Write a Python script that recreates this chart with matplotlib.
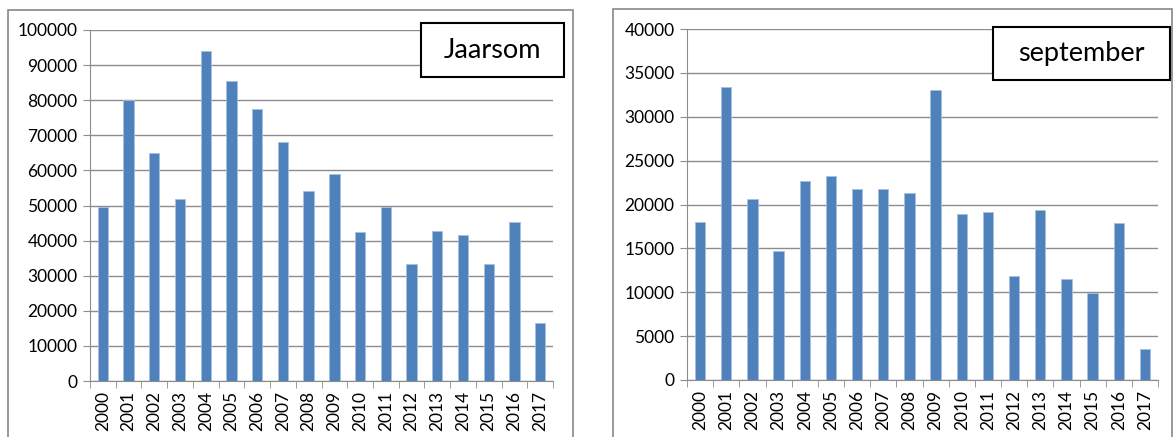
import matplotlib.pyplot as plt
from matplotlib.patches import Rectangle

years = [str(y) for y in range(2000, 2018)]
jaarsom = [49500, 80000, 65000, 51800, 94000, 85500, 77500, 68200, 54000,
           59100, 42400, 49500, 33200, 42600, 41600, 33200, 45300, 16500]
september = [18000, 33400, 20600, 14700, 22700, 23200, 21800, 21800, 21300,
             33050, 18900, 19200, 11900, 19400, 11500, 9950, 17900, 3500]

W, H = 1174, 437
plt.rcParams["font.family"] = ["Lato", "DejaVu Sans"]

fig = plt.figure(figsize=(W / 100, H / 100), dpi=100)

bar_color = "#4F81BD"
grid_color = "#8C8C8C"


def px_axes(left, top, right, bottom):
    return fig.add_axes([left / W, 1 - bottom / H, (right - left) / W, (bottom - top) / H])


def draw(ax, values, ymax, step, title, box):
    x = range(len(values))
    ax.bar(x, values, width=0.4, color=bar_color, edgecolor="#A7BFDE", linewidth=0.6, zorder=3)
    ax.set_xlim(-0.5, len(values) - 0.5)
    ax.set_ylim(0, ymax)
    ax.set_yticks(range(0, ymax + 1, step))
    ax.set_xticks(list(x))
    ax.set_xticklabels(years, rotation=90, fontsize=12.5)
    ax.set_xticks([i - 0.5 for i in range(len(values) + 1)], minor=True)
    ax.tick_params(axis="x", which="major", length=0, pad=7)
    ax.tick_params(axis="x", which="minor", length=5, color=grid_color)
    ax.tick_params(axis="y", length=5, color=grid_color, labelsize=12.5, pad=4)
    ax.yaxis.grid(True, color=grid_color, linewidth=1, zorder=0)
    for s in ["top", "right"]:
        ax.spines[s].set_visible(False)
    for s in ["left", "bottom"]:
        ax.spines[s].set_color(grid_color)
    bl, bt, br, bb = box
    fig.patches.append(Rectangle((bl / W, 1 - bb / H), (br - bl) / W, (bb - bt) / H,
                                 transform=fig.transFigure, facecolor="white",
                                 edgecolor="black", linewidth=1.5, zorder=5))
    fig.text((bl + br) / 2 / W, 1 - (bt + bb) / 2 / H, title, fontsize=19.5,
             ha="center", va="center", zorder=6)


# outer chart borders
fig.patches.append(Rectangle((8 / W, -0.1), 565 / W, 1 - 10 / H + 0.1,
                             transform=fig.transFigure, fill=False,
                             edgecolor="#888888", linewidth=1.2))
fig.patches.append(Rectangle((613 / W, -0.1), 559 / W, 1 - 9 / H + 0.1,
                             transform=fig.transFigure, fill=False,
                             edgecolor="#888888", linewidth=1.2))

ax1 = px_axes(90, 30, 553, 381)
draw(ax1, jaarsom, 100000, 10000, "Jaarsom", (421, 23, 564, 77))

ax2 = px_axes(687, 29, 1158, 380)
draw(ax2, september, 40000, 5000, "september", (993, 27, 1170, 80))

fig.savefig("out.png", dpi=100)
